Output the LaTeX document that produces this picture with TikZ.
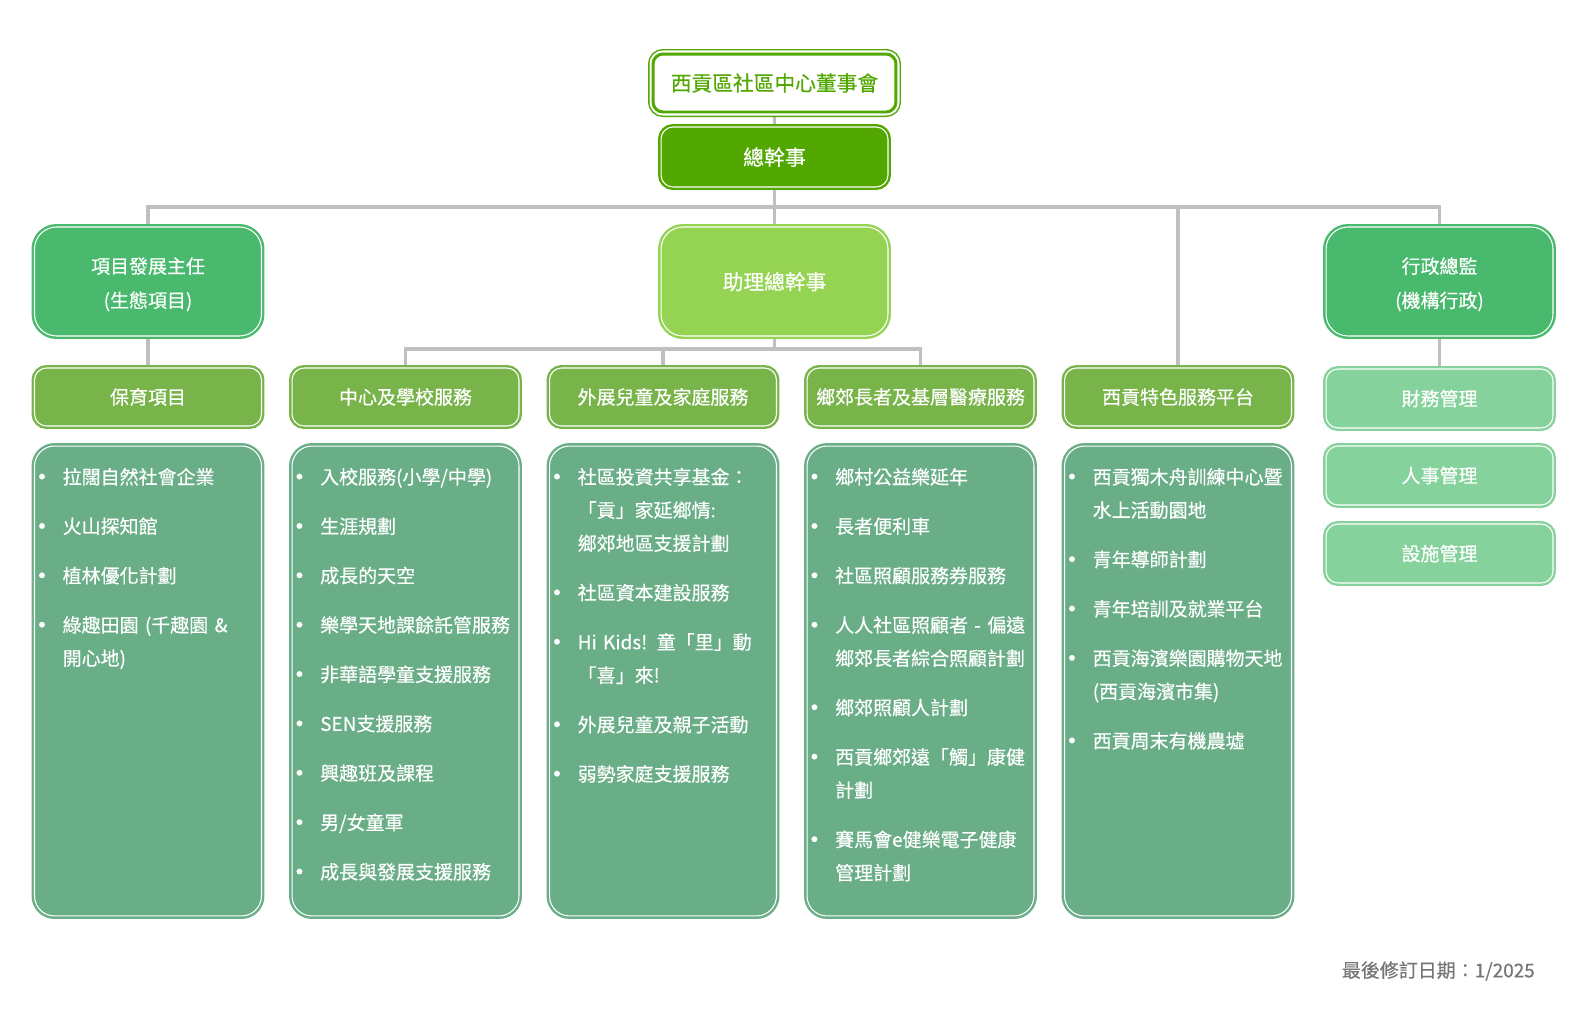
\documentclass[tikz,border=0pt]{standalone}
\usepackage{fontspec}
\setmainfont{Noto Sans CJK TC}[FakeBold=0.4]
\usepackage{enumitem}
\usetikzlibrary{positioning,backgrounds}

\definecolor{boardgreen}{HTML}{52A800}
\definecolor{headgreen}{HTML}{48B96D}
\definecolor{asstgreen}{HTML}{95D352}
\definecolor{unitgreen}{HTML}{79B44B}
\definecolor{admingreen}{HTML}{86D29C}
\definecolor{listgreen}{HTML}{6AAE87}
\definecolor{linkgray}{HTML}{BFBFBF}
\definecolor{dategray}{HTML}{757575}

\newcommand{\dotmark}{\raisebox{2.9pt}{\fontsize{3.6}{4}\selectfont ●}}
\setlist[itemize]{label=\dotmark, leftmargin=11.3pt, labelsep=10pt, itemsep=9.2pt, parsep=0pt, topsep=0pt, partopsep=0pt}

\tikzset{
  box/.style={rectangle, fill=#1, draw=white, line width=0.6pt,
    preaction={draw=#1, line width=3.4pt}, text=white, align=center,
    inner sep=0pt, font=\fontsize{10.8}{19.5}\selectfont},
  board/.style={rectangle, rounded corners=0.2cm, fill=white, draw=boardgreen, line width=1.7pt,
    preaction={draw=boardgreen, line width=5.7pt}, preaction={draw=white, line width=4pt},
    text=boardgreen, inner sep=0pt, minimum width=4.86cm, minimum height=1.16cm,
    font=\fontsize{11.8}{14}\selectfont},
  lead/.style={box=#1, rounded corners=0.44cm, minimum width=4.54cm, minimum height=2.18cm},
  leadtext/.style={align=center, text=white, inner sep=0pt, yshift=-1.6pt,
    font=\fontsize{10.8}{19.5}\selectfont},
  unit/.style={box=#1, rounded corners=0.24cm, minimum width=4.54cm, minimum height=1.16cm},
  list/.style={box=listgreen, rounded corners=0.4cm, minimum width=4.54cm, minimum height=9.4cm},
  items/.style={anchor=north west, text width=4.4cm, align=left, text=white, inner sep=0pt,
    font=\fontsize{10.8}{18.9}\selectfont},
  link/.style={draw=linkgray, line width=2pt},
}

\begin{document}
\begin{tikzpicture}[x=0.02cm, y=-0.02cm]
  \useasboundingbox (0,0) rectangle (1588,1008);

  % top of the chart
  \node[board] (board) at (774.5,83) {西貢區社區中心董事會};
  \node[unit=boardgreen, minimum height=1.2cm, font=\fontsize{11.9}{14}\selectfont] (gm) at (774.5,157) {總幹事};

  % second level
  \node[lead=headgreen, label={[leadtext]center:項目發展主任\\(生態項目)}] (dev) at (148,281.5) {};
  \node[lead=asstgreen, font=\fontsize{11.8}{14}\selectfont] (asst) at (774.5,281.5) {助理總幹事};
  \node[lead=headgreen, label={[leadtext]center:行政總監\\(機構行政)}] (admin) at (1439.5,281.5) {};

  % units
  \node[unit=unitgreen] (h1) at (148,397) {保育項目};
  \node[unit=unitgreen] (h2) at (405.5,397) {中心及學校服務};
  \node[unit=unitgreen] (h3) at (663,397) {外展兒童及家庭服務};
  \node[unit=unitgreen] (h4) at (920.5,397) {鄉郊長者及基層醫療服務};
  \node[unit=unitgreen] (h5) at (1178,397) {西貢特色服務平台};
  \node[unit=admingreen, minimum height=1.18cm] (fin) at (1439.5,398.5) {財務管理};
  \node[unit=admingreen, minimum height=1.18cm] (hr) at (1439.5,475.5) {人事管理};
  \node[unit=admingreen, minimum height=1.18cm] (fac) at (1439.5,553.5) {設施管理};

  % service lists
  \node[list] (c1) at (148,681) {};
  \node[list] (c2) at (405.5,681) {};
  \node[list] (c3) at (663,681) {};
  \node[list] (c4) at (920.5,681) {};
  \node[list] (c5) at (1178,681) {};

  \node[items] (t1) at ([shift={(8.5,5)}]c1.north west) {\begin{itemize}
    \item 拉闊自然社會企業
    \item 火山探知館
    \item 植林優化計劃
    \item 綠趣田園 (千趣園 \&\newline 開心地)
  \end{itemize}};
  \node[items] (t2) at ([shift={(8.5,5)}]c2.north west) {\begin{itemize}
    \item 入校服務(小學/中學)
    \item 生涯規劃
    \item 成長的天空
    \item 樂學天地課餘託管服務
    \item 非華語學童支援服務
    \item SEN支援服務
    \item 興趣班及課程
    \item 男/女童軍
    \item 成長與發展支援服務
  \end{itemize}};
  \node[items] (t3) at ([shift={(8.5,5)}]c3.north west) {\begin{itemize}
    \item 社區投資共享基金：\newline 「貢」家延鄉情:\newline 鄉郊地區支援計劃
    \item 社區資本建設服務
    \item Hi Kids! 童「里」動\newline 「喜」來!
    \item 外展兒童及親子活動
    \item 弱勢家庭支援服務
  \end{itemize}};
  \node[items] (t4) at ([shift={(8.5,5)}]c4.north west) {\begin{itemize}
    \item 鄉村公益樂延年
    \item 長者便利車
    \item 社區照顧服務券服務
    \item 人人社區照顧者 - 偏遠\newline 鄉郊長者綜合照顧計劃
    \item 鄉郊照顧人計劃
    \item 西貢鄉郊遠「觸」康健\newline 計劃
    \item 賽馬會e健樂電子健康\newline 管理計劃
  \end{itemize}};
  \node[items] (t5) at ([shift={(8.5,5)}]c5.north west) {\begin{itemize}
    \item 西貢獨木舟訓練中心暨\newline 水上活動園地
    \item 青年導師計劃
    \item 青年培訓及就業平台
    \item 西貢海濱樂園購物天地\newline (西貢海濱市集)
    \item 西貢周末有機農墟
  \end{itemize}};

  \node[text=dategray, anchor=east, font=\fontsize{10.8}{14}\selectfont] (date) at (1541,971) {最後修訂日期：1/2025};

  % connectors
  \coordinate (bar) at (774.5,207);
  \coordinate (bar2) at (774.5,349);
  \begin{scope}[on background layer]
    \draw[link] (board.south) -- (bar2);
    \draw[link] (dev.north) |- (bar) -| (admin.north);
    \draw[link] (bar) -| (h5.north);
    \draw[link] (dev.south) -- (h1.north);
    \draw[link] (admin.south) -- (fin.north);
    \draw[link] (h2.north) |- (bar2) -| (h4.north);
    \draw[link] (h3.north) -- (h3.north |- bar2);
  \end{scope}
\end{tikzpicture}
\end{document}
